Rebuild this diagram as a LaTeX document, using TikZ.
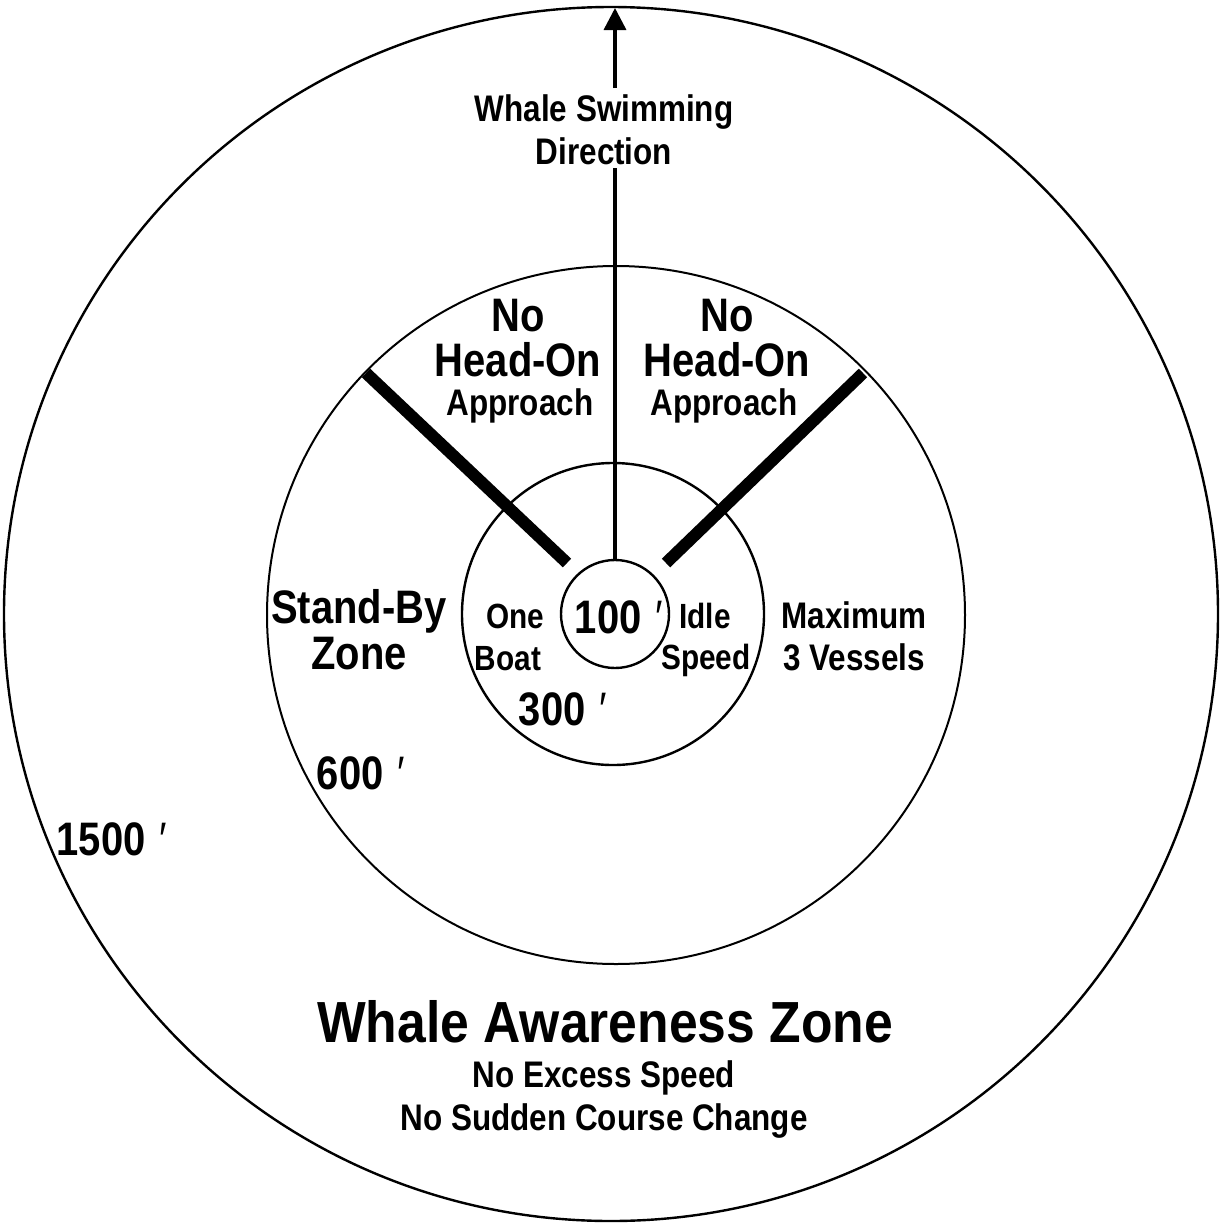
\documentclass[tikz,border=0pt]{standalone}
\usepackage{fontspec}
\setmainfont{Liberation Sans}[FakeStretch=0.85]
\newfontfamily\titlefont{Liberation Sans}[FakeStretch=0.89]
\usetikzlibrary{arrows.meta}
\newcommand{\ft}{\hspace{0.3em}{\mdseries ′}}
\begin{document}
\begin{tikzpicture}[x=1pt,y=-1pt,
  ring/.style={circle, draw, line width=2.4pt, inner sep=0pt, outer sep=0pt},
  lbl/.style={inner sep=0pt, anchor=base, font=\bfseries\fontsize{37}{40}\selectfont},
  biglbl/.style={lbl, font=\bfseries\fontsize{47}{50}\selectfont},
  smlbl/.style={lbl, font=\bfseries\fontsize{35}{38}\selectfont},
  titlelbl/.style={lbl, font=\titlefont\bfseries\fontsize{58}{60}\selectfont},
  bar/.style={line width=12pt},
  dirline/.style={line width=3.5pt}]
\useasboundingbox (0,0) rectangle (1222,1227);
% rings
\node[ring, minimum size=1214pt] (c1500) at (611,614) {};
\node[ring, minimum size=698pt, line width=2pt] (c600) at (616,615) {};
\node[ring, minimum size=302pt] (c300) at (613,614) {};
\node[ring, minimum size=108pt] (c100) at (615,614) {};
% direction arrow
\coordinate (gapbot) at (615,168);
\coordinate (gaptop) at (615,88);
\coordinate (tip) at (615,8);
\draw[dirline] (c100.north) -- (gapbot);
\draw[dirline, -{Triangle[length=22pt,width=22pt]}] (gaptop) -- (tip);
% thick boundary bars
\coordinate (lout) at (366,373);
\coordinate (lin) at (567,563);
\coordinate (rout) at (863,373);
\coordinate (rin) at (666,563);
\draw[bar] (lout) -- (lin);
\draw[bar] (rout) -- (rin);
% labels
\node[lbl] (ws1) at (604,121) {Whale Swimming};
\node[lbl] (ws2) at (604,164) {Direction};
\node[biglbl] (lno) at (518,331) {No};
\node[biglbl] (lhead) at (518,376) {Head-On};
\node[lbl] (lapp) at (520,415) {Approach};
\node[biglbl] (rno) at (727,331) {No};
\node[biglbl] (rhead) at (727,376) {Head-On};
\node[lbl] (rapp) at (724,415) {Approach};
\node[biglbl] (sb1) at (359,623) {Stand-By};
\node[biglbl] (sb2) at (359,669) {Zone};
\node[smlbl] (ob1) at (515,628) {One};
\node[smlbl] (ob2) at (508,670) {Boat};
\node[biglbl] (l100) at (619,633) {100\ft};
\node[smlbl] (is1) at (705,628) {Idle};
\node[smlbl] (is2) at (706,669) {Speed};
\node[lbl] (mx1) at (854,628) {Maximum};
\node[lbl] (mx2) at (854,670) {3 Vessels};
\node[biglbl] (l300) at (563,725) {300\ft};
\node[biglbl] (l600) at (361,789) {600\ft};
\node[biglbl] (l1500) at (112,855) {1500\ft};
\node[titlelbl] (title) at (605,1042) {Whale Awareness Zone};
\node[lbl] (sub1) at (604,1087) {No Excess Speed};
\node[lbl] (sub2) at (604,1130) {No Sudden Course Change};
\end{tikzpicture}
\end{document}
